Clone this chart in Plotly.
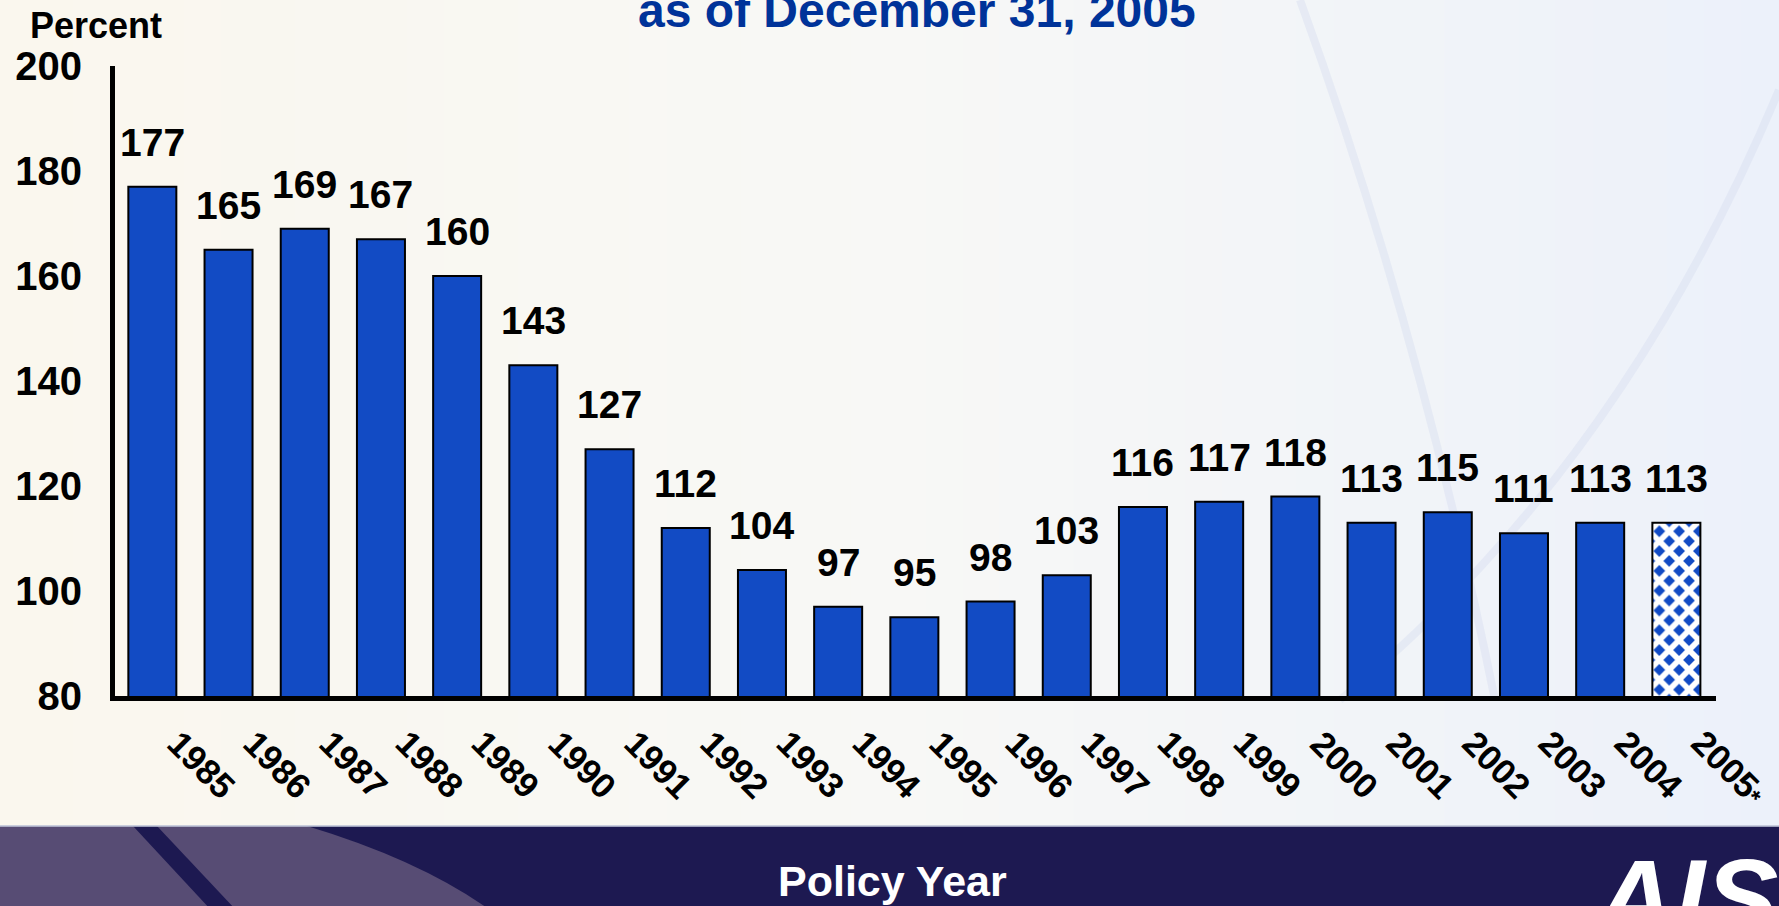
import plotly.graph_objects as go

# Policy-year loss ratios (percent)
years = ["1985", "1986", "1987", "1988", "1989", "1990", "1991", "1992", "1993", "1994",
         "1995", "1996", "1997", "1998", "1999", "2000", "2001", "2002", "2003", "2004", "2005*"]
values = [177, 165, 169, 167, 160, 143, 127, 112, 104, 97,
          95, 98, 103, 116, 117, 118, 113, 115, 111, 113, 113]
projected = [False] * 20 + [True]
year_labels = years[:-1] + ["2005<span style='font-size:24px'>*</span>"]
y_ticks = [80, 100, 120, 140, 160, 180, 200]

W, H = 1779, 906
ML, MR, MT, MB = 115, 63, 66, 210
PW, PH = W - ML - MR, H - MT - MB

BLUE = "#124BC4"
NAVY = "#1D1951"
FONT = "Liberation Sans, Arial, sans-serif"


def fx(p):
    """page x pixel -> paper x"""
    return (p - ML) / PW


def fy(p):
    """page y pixel -> paper y"""
    return (H - MB - p) / PH


fig = go.Figure()

fig.add_trace(go.Bar(
    x=list(range(len(years))),
    y=values,
    width=0.63,
    marker=dict(
        color=BLUE,
        line=dict(color="black", width=2),
        pattern=dict(
            shape=["x" if p else "" for p in projected],
            fillmode="replace",
            fgcolor="white",
            bgcolor=BLUE,
            size=14,
            solidity=0.65,
        ),
    ),
    hovertext=years,
    hoverinfo="text+y",
))

shapes = []

# soft cream-to-blue backdrop
n_strips = 48
stops = [(0.0, (250, 247, 238)), (0.5, (248, 248, 246)), (1.0, (236, 241, 250))]


def blend(t):
    for (t0, a), (t1, b) in zip(stops[:-1], stops[1:]):
        if t <= t1:
            s = (t - t0) / (t1 - t0)
            return tuple(round(x + (y - x) * s) for x, y in zip(a, b))
    return stops[-1][1]


for i in range(n_strips):
    col = blend(i / (n_strips - 1))
    shapes.append(dict(
        type="rect", xref="paper", yref="paper", layer="below",
        x0=fx(W * i / n_strips - 1), x1=fx(W * (i + 1) / n_strips + 1),
        y0=fy(H), y1=fy(0),
        fillcolor="rgb(%d,%d,%d)" % col, line=dict(width=0),
    ))


# faint swooshes in the upper right
def curve(p0, c, p1):
    return "M %f %f Q %f %f %f %f" % (fx(p0[0]), fy(p0[1]), fx(c[0]), fy(c[1]), fx(p1[0]), fy(p1[1]))


for path in (curve((1300, 0), (1420, 330), (1495, 700)),
             curve((1779, 90), (1620, 470), (1340, 700))):
    shapes.append(dict(type="path", xref="paper", yref="paper", layer="below",
                       path=path, line=dict(color="rgba(214,221,240,0.45)", width=8)))

# footer band
shapes.append(dict(type="rect", xref="paper", yref="paper", layer="above",
                   x0=fx(-5), x1=fx(W + 5), y0=fy(H + 5), y1=fy(826),
                   fillcolor=NAVY, line=dict(width=0)))
shapes.append(dict(type="path", xref="paper", yref="paper", layer="above",
                   path="M %f %f L %f %f Q %f %f %f %f L %f %f Z" % (
                       fx(-5), fy(826), fx(307), fy(826), fx(420), fy(860),
                       fx(490), fy(910), fx(-5), fy(910)),
                   fillcolor="#574C74", line=dict(width=0)))
shapes.append(dict(type="path", xref="paper", yref="paper", layer="above",
                   path="M %f %f L %f %f L %f %f L %f %f Z" % (
                       fx(133), fy(826), fx(157), fy(826), fx(236), fy(910), fx(211), fy(910)),
                   fillcolor=NAVY, line=dict(width=0)))
shapes.append(dict(type="line", xref="paper", yref="paper", layer="above",
                   x0=fx(-5), x1=fx(W + 5), y0=fy(826), y1=fy(826),
                   line=dict(color="rgba(190,195,215,0.8)", width=2)))

annotations = []
# value labels above each bar
for i, v in enumerate(values):
    annotations.append(dict(
        x=i, y=v, xref="x", yref="y", text=str(v), showarrow=False,
        yanchor="bottom", yshift=21,
        font=dict(family=FONT, size=39, color="black", weight="bold"),
    ))
# slanted year labels under the axis
for i, lab in enumerate(year_labels):
    annotations.append(dict(
        x=i, y=fy(720), xref="x", yref="paper", text=lab, showarrow=False,
        xanchor="left", yanchor="top", xshift=5, textangle=45,
        font=dict(family=FONT, size=35, color="black", weight="bold"),
    ))

annotations += [
    dict(x=fx(28), y=fy(25), xref="paper", yref="paper", text="Percent",
         showarrow=False, xanchor="left", yanchor="middle",
         font=dict(family=FONT, size=36, color="black", weight="bold")),
    dict(x=fx(917), y=fy(-18), xref="paper", yref="paper", text="as of December 31, 2005",
         showarrow=False, xanchor="center", yanchor="top",
         font=dict(family=FONT, size=48, color="#003399", weight="bold")),
    dict(x=fx(892), y=fy(881), xref="paper", yref="paper", text="Policy Year",
         showarrow=False, xanchor="center", yanchor="middle",
         font=dict(family=FONT, size=43, color="white", weight="bold")),
    dict(x=fx(1590), y=fy(834), xref="paper", yref="paper", text="AIS",
         showarrow=False, xanchor="left", yanchor="top",
         font=dict(family=FONT, size=110, color="white", weight="bold", style="italic")),
]

fig.update_layout(
    width=W, height=H,
    margin=dict(l=ML, r=MR, t=MT, b=MB, pad=0),
    paper_bgcolor="rgb(246,246,244)",
    plot_bgcolor="rgba(0,0,0,0)",
    showlegend=False,
    bargap=0.37,
    shapes=shapes,
    annotations=annotations,
    xaxis=dict(
        range=[-0.49, 20.52],
        showticklabels=False,
        showline=True, linecolor="black", linewidth=5,
        showgrid=False, zeroline=False, ticks="",
    ),
    yaxis=dict(
        range=[80, 200],
        tickmode="array", tickvals=y_ticks,
        tickfont=dict(family=FONT, size=40, color="black", weight="bold"),
        showline=True, linecolor="black", linewidth=5,
        showgrid=False, zeroline=False, ticks="",
        ticklabelstandoff=20,
    ),
)

fig.write_html("out.html")
